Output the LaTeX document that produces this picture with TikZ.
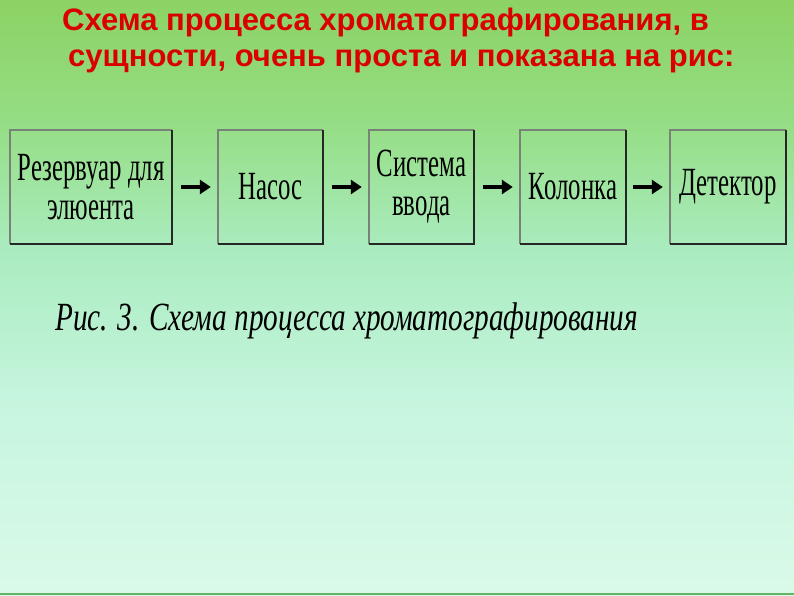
\documentclass[tikz,border=0pt]{standalone}
\usepackage{fontspec}
\setmainfont{Liberation Serif}
\newfontfamily\titlefont{Liberation Sans}
\newfontfamily\narrowfont[FakeStretch=0.62]{Liberation Serif}
\newfontfamily\capfont[FakeStretch=0.73]{Liberation Serif}
\usetikzlibrary{arrows.meta}

\definecolor{titlered}{RGB}{218,0,0}
\definecolor{boxedge}{RGB}{120,130,120}
% shading box is 100bp, the path is fitted to 25bp..75bp
\pgfdeclareverticalshading{fon}{100bp}{%
  rgb(0bp)=(.855,.980,.910); rgb(25bp)=(.855,.980,.910);
  rgb(41.4bp)=(.776,.961,.871); rgb(54bp)=(.667,.925,.753);
  rgb(64.1bp)=(.588,.871,.529); rgb(75bp)=(.549,.824,.392);
  rgb(100bp)=(.549,.824,.392)}

\begin{document}
\begin{tikzpicture}[x=1pt, y=-1pt,
    blok/.style={minimum height=114pt, inner sep=0pt, align=center,
      font=\fontsize{40}{39}\narrowfont},
    strelka/.style={line width=3.6pt, -{Triangle[length=11pt, width=14pt]}},
    ten/.style={line width=1.8pt, black!85}]
  % --- background ---
  \useasboundingbox (0,0) rectangle (794,595);
  \shade[shading=fon] (0,0) rectangle (794,595);
  \draw[green!50!black!60, line width=1.5pt] (0,594) -- (794,594);

  % --- title ---
  \node[anchor=base west, text=titlered, inner sep=0pt,
    font=\fontsize{31}{33}\titlefont\bfseries] (title1) at (62,30)
    {Схема процесса хроматографирования, в};
  \node[anchor=base west, text=titlered, inner sep=0pt,
    font=\fontsize{31}{33}\titlefont\bfseries] (title2) at (68,66)
    {сущности, очень проста и показана на рис:};

  % --- boxes ---
  \node[blok, minimum width=162pt] (rez)   at (91,187)    {Резервуар для\\элюента};
  \node[blok, minimum width=105pt] (nasos) at (270.5,187) {Насос};
  \node[blok, minimum width=105pt] (vvod)  at (421.5,187) {Система\\ввода};
  \node[blok, minimum width=106pt] (kol)   at (573,187)   {Колонка};
  \node[blok, minimum width=116pt] (det)   at (728,187)   {Детектор};
  \foreach \b in {rez,nasos,vvod,kol,det} {
    \draw[boxedge, line width=1.8pt] (\b.south west) -- (\b.north west) -- (\b.north east);
    \draw[ten] (\b.north east) -- (\b.south east) -- (\b.south west);
  }

  % --- arrows ---
  \draw[strelka] ([xshift=9pt]rez.east)   -- ([xshift=-7pt]nasos.west);
  \draw[strelka] ([xshift=9pt]nasos.east) -- ([xshift=-7pt]vvod.west);
  \draw[strelka] ([xshift=9pt]vvod.east)  -- ([xshift=-7pt]kol.west);
  \draw[strelka] ([xshift=7pt]kol.east)   -- ([xshift=-7pt]det.west);

  % --- caption ---
  \node[anchor=base west, inner sep=0pt, font=\fontsize{40}{40}\capfont\itshape]
    (podpis) at (55,330) {Рис. 3. Схема процесса хроматографирования};
\end{tikzpicture}
\end{document}
